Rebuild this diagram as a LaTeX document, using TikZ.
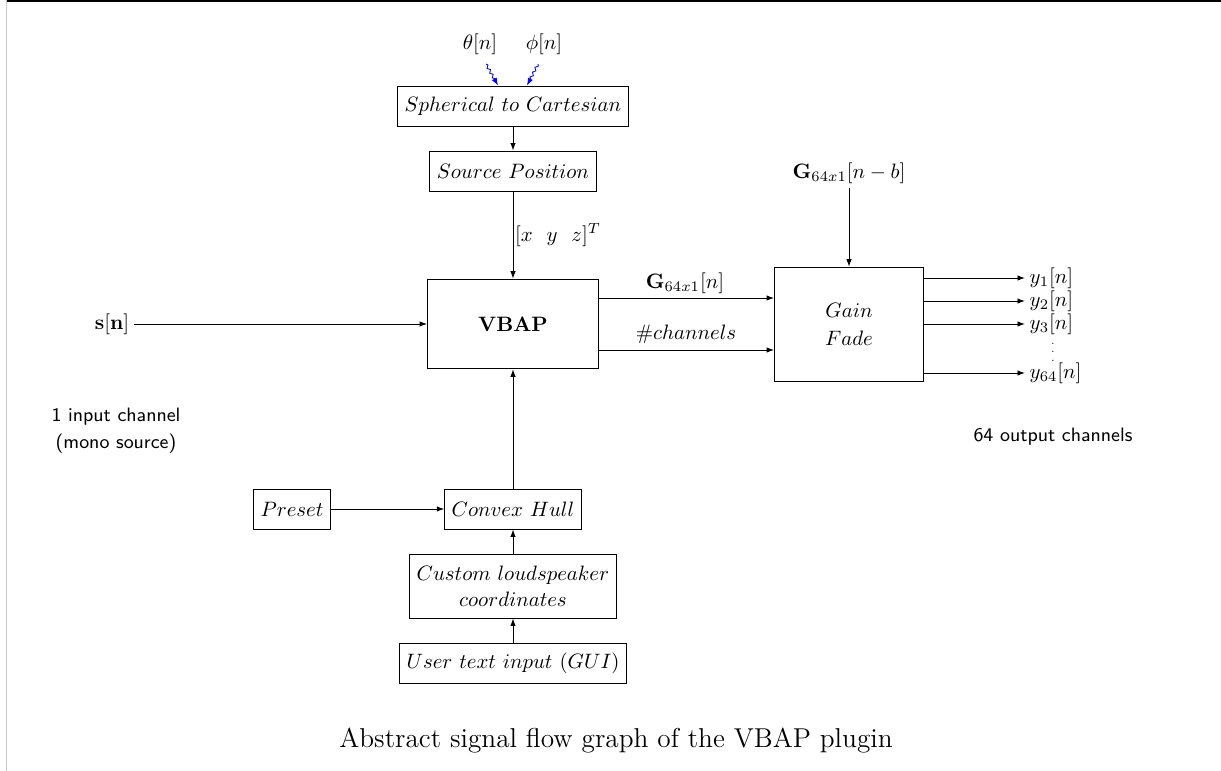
\documentclass[tikz,border=0pt]{standalone}
\usetikzlibrary{arrows.meta,decorations.pathmorphing}
\tikzset{
  box/.style={draw, line width=0.45pt, minimum height=19.2pt, inner xsep=3.33pt},
  arr/.style={-{Latex[length=3.6pt,width=2.6pt]}, line width=0.45pt},
  snakearr/.style={blue, -{Latex[length=3.6pt,width=2.6pt]}, line width=0.4pt,
    decorate, decoration={snake, amplitude=0.6pt, segment length=2.6pt, post length=2pt}},
  lbl/.style={inner sep=2pt},
  sflbl/.style={font=\fontsize{9.3}{13}\selectfont\sffamily, align=center},
}
\begin{document}
\begin{tikzpicture}[x=0.48pt,y=-0.48pt]
\useasboundingbox (0,0) rectangle (1221,771);
% page edges seen in the reference
\draw[line width=1.2pt] (6,0.6) -- (1221,0.6);
\draw[gray!45, line width=0.6pt] (6.5,0) -- (6.5,771);

% top chain
\node[lbl] (theta) at (480,44) {$\theta[n]$};
\node[lbl] (phi) at (544,44) {$\phi[n]$};
\node[box] (sph) at (513,106) {$Spherical\ to\ Cartesian$};
\node[box] (src) at (513,171) {$Source\ Position$};
\node[draw, line width=0.45pt, minimum width=82pt, minimum height=43pt] (vbap) at (513,324) {\textbf{VBAP}};
\node[draw, line width=0.45pt, minimum width=71.5pt, minimum height=55pt, align=center] (gain) at (849,324.5) {$Gain$\\[1.2pt]$Fade$};

\coordinate (ta) at (486,64);
\coordinate (pa) at (538,64);
\draw[snakearr] (ta) -- ([xshift=-7.2pt]sph.north);
\draw[snakearr] (pa) -- ([xshift=6.7pt]sph.north);
\draw[arr] (sph.south) -- (src.north);
\draw[arr] (src.south) -- (vbap.north);
\node[lbl] (xyz) at (558,235) {$[x\ \ y\ \ z]^T$};

% input
\node[lbl] (s) at (112,324) {$\mathbf{s}[\mathbf{n}]$};
\draw[arr] (s.east) -- (vbap.west);
\node[sflbl] (inlbl) at (116,431) {1 input channel\\(mono source)};

% VBAP -> Gain
\coordinate (g1) at (0,298);
\coordinate (g2) at (0,350);
\draw[arr] (vbap.east |- g1) -- (gain.west |- g1);
\draw[arr] (vbap.east |- g2) -- (gain.west |- g2);
\node[lbl] (glbl) at (685,283) {$\mathbf{G}_{64x1}[n]$};
\node[lbl] (chlbl) at (686,334) {$\#channels$};

% delayed gains
\node[lbl] (gd) at (849,173) {$\mathbf{G}_{64x1}[n-b]$};
\draw[arr] (gd.south) -- (gain.north);

% outputs
\node[lbl, anchor=west] (y1) at (1025,278) {$y_1[n]$};
\node[lbl, anchor=west] (y2) at (1025,301) {$y_2[n]$};
\node[lbl, anchor=west] (y3) at (1025,324) {$y_3[n]$};
\node[lbl, anchor=west] (y64) at (1025,373) {$y_{64}[n]$};
\node[inner sep=0pt, font=\fontsize{5}{6}\selectfont] (vd) at (1053,346) {$\vdots$};
\draw[arr] (gain.east |- y1) -- (y1.west);
\draw[arr] (gain.east |- y2) -- (y2.west);
\draw[arr] (gain.east |- y3) -- (y3.west);
\draw[arr] (gain.east |- y64) -- (y64.west);
\node[sflbl] (outlbl) at (1053,437) {64 output channels};

% bottom chain
\node[box] (preset) at (292,509) {$Preset$};
\node[box] (hull) at (513,509) {$Convex\ Hull$};
\node[box, minimum height=30.7pt, align=center] (cust) at (513,586) {$Custom\ loudspeaker$\\[0.6pt]$coordinates$};
\node[box] (user) at (513,663) {$User\ text\ input\ (GUI)$};
\draw[arr] (preset.east) -- (hull.west);
\draw[arr] (hull.north) -- (vbap.south);
\draw[arr] (cust.north) -- (hull.south);
\draw[arr] (user.north) -- (cust.south);

% caption
\node[font=\fontsize{13.1}{15}\selectfont] (cap) at (616,741) {Abstract signal flow graph of the VBAP plugin};
\end{tikzpicture}
\end{document}
